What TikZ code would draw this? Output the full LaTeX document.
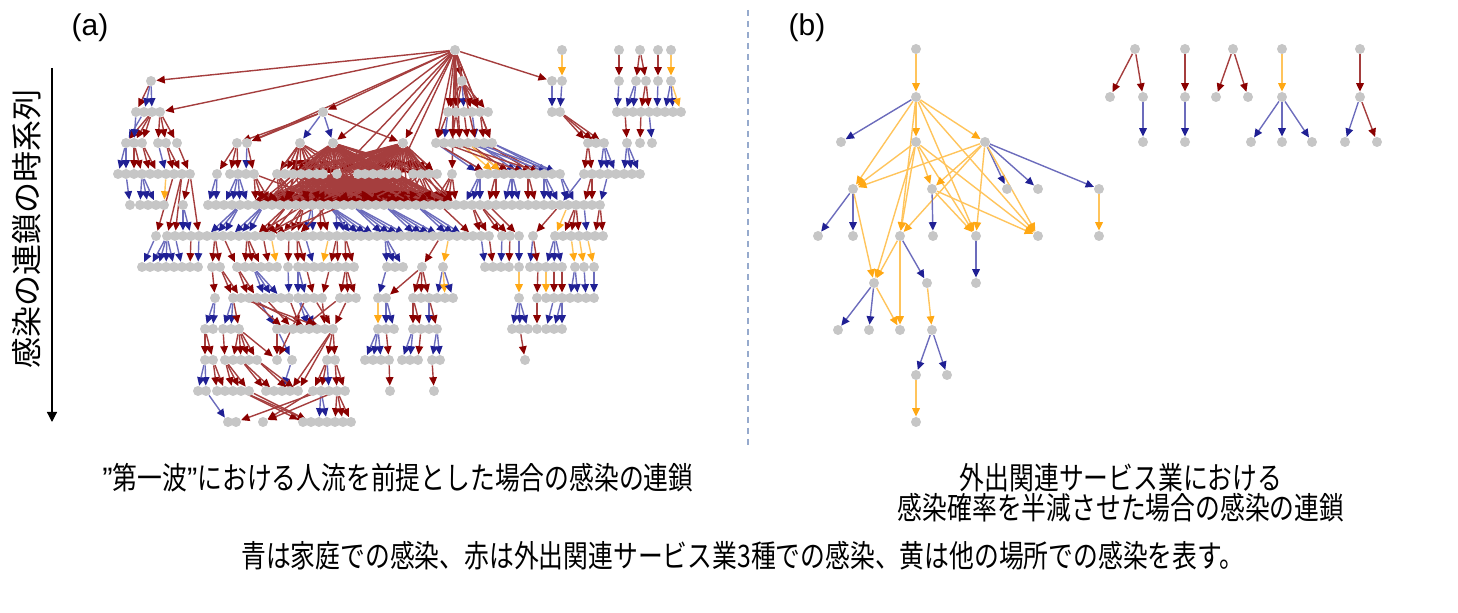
\documentclass[tikz,border=0pt]{standalone}
\usepackage{fontspec}
\usetikzlibrary{arrows.meta}
\newfontfamily\jp[FakeStretch=0.8]{Noto Sans CJK JP}
\newfontfamily\jpv{Noto Sans CJK JP}
\newfontfamily\lab{Liberation Sans}
\definecolor{nodegray}{RGB}{198,198,198}
\definecolor{redline}{RGB}{165,62,62}
\definecolor{redtip}{RGB}{138,0,0}
\definecolor{blueline}{RGB}{108,108,188}
\definecolor{bluetip}{RGB}{32,32,148}
\definecolor{yelline}{RGB}{255,196,92}
\definecolor{yeltip}{RGB}{255,168,20}
\definecolor{sepblue}{RGB}{150,170,205}
\pgfdeclarelayer{edges}
\pgfsetlayers{edges,main}
\tikzset{
  case/.style={circle, fill=nodegray, inner sep=0pt, minimum size=5pt},
  lnr/.style={draw=redline, line width=0.7pt, -{Triangle[length=4.2pt,width=3.8pt,color=redtip]}},
  lnb/.style={draw=blueline, line width=0.7pt, -{Triangle[length=4.2pt,width=3.8pt,color=bluetip]}},
  lny/.style={draw=yelline, line width=0.7pt, -{Triangle[length=4.2pt,width=3.8pt,color=yeltip]}},
  captxt/.style={font=\fontsize{15.5}{15}\selectfont\jp, inner sep=0pt, align=center},
  paneltxt/.style={font=\fontsize{15}{15}\selectfont\lab, inner sep=0pt}
}
\def\nonetext{none}
% (a): one run of siblings per entry: row/x/count/parent/colour
\def\chainruns{
  0/455/1/none/r, 0/562/1/none/r, 0/619/1/none/r, 0/640/1/none/r, 0/658/1/none/r, 0/671/1/none/r,
  1/151/1/n0-455/r, 1/462/1/n0-455/r, 1/552/1/n0-455/r, 1/562/1/n0-562/y, 1/619/1/n0-619/r,
  1/636/1/n0-640/r, 1/646/1/n0-640/r, 1/658/1/n0-658/r, 1/671/1/n0-671/y,
  2/136/1/n1-151/r, 2/144/2/n1-151/b, 2/160/1/n0-455/r, 2/323/1/n0-455/r, 2/448/2/n1-462/r,
  2/464/1/n1-462/b, 2/472/3/n1-462/r, 2/552/1/n1-552/b, 2/560/1/n1-562/b, 2/617/1/n1-619/b,
  2/625/2/n1-636/b, 2/641/2/n1-646/r, 2/657/1/n1-658/b, 2/665/2/n1-671/b, 2/681/1/n1-671/y,
  3/126/1/n2-144/b, 3/134/2/n2-152/r, 3/158/2/n2-160/r, 3/177/1/n2-160/r, 3/237/1/n2-323/r,
  3/247/1/n2-323/r, 3/300/1/n2-323/b, 3/333/1/n2-323/b, 3/403/1/n0-455/r, 3/436/1/n2-448/r,
  3/444/1/n2-448/b, 3/452/2/n2-456/r, 3/468/1/n2-464/r, 3/476/1/n2-472/b, 3/484/2/n2-480/r,
  3/588/2/n2-560/r, 3/604/1/n2-560/r, 3/627/1/n2-625/r, 3/640/1/n2-641/r, 3/652/1/n2-649/b,
  4/118/2/n3-126/b, 4/134/2/n3-134/r, 4/150/2/n3-142/r, 4/166/1/n3-158/b, 4/174/2/n3-166/r,
  4/190/1/n3-177/r, 4/217/1/n3-237/r, 4/230/2/n3-237/r, 4/246/1/n3-247/b, 4/254/1/n3-247/r,
  4/277/1/n3-300/r, 4/285/5/n3-300/r, 4/323/1/n3-333/r, 4/337/1/n3-333/r, 4/358/1/n3-403/r,
  4/365/4/n3-403/r, 4/397/1/n3-403/r, 4/413/4/n3-403/r,
  4/452/1/n0-455/r, 4/480/2/n3-436/b, 4/496/1/n3-460/y, 4/504/2/n3-468/r, 4/520/2/n3-476/b,
  4/536/2/n3-484/r, 4/552/2/n3-492/b, 4/584/2/n3-588/r, 4/600/3/n3-604/b, 4/624/3/n3-627/b,
  5/130/1/n4-126/b, 5/140/3/n4-142/b, 5/164/1/n4-166/y, 5/183/1/n4-190/r, 5/208/2/n4-217/b,
  5/224/4/n4-238/b, 5/256/3/n4-254/r, 5/280/4/n4-277/r, 5/312/5/n4-323/r, 5/352/5/n4-358/r,
  5/392/5/n4-397/r, 5/432/4/n4-452/r, 5/464/3/n4-480/b, 5/488/2/n4-496/r, 5/504/3/n4-512/b,
  5/528/2/n4-528/r, 5/544/3/n4-544/b, 5/568/2/n4-560/b, 5/584/2/n4-592/r, 5/600/1/n4-608/b,
  6/156/1/n4-174/r, 6/167/2/n4-182/r, 6/183/2/n5-183/b, 6/199/1/n4-190/r, 6/207/3/n5-240/b,
  6/231/3/n5-264/b, 6/255/2/n5-288/r, 6/271/1/n5-296/r, 6/281/3/n5-304/r, 6/305/2/n5-312/b,
  6/321/2/n5-320/r, 6/337/2/n5-336/b, 6/353/4/n5-328/b, 6/385/4/n5-352/b, 6/417/4/n5-384/b,
  6/449/3/n5-416/b, 6/473/1/n5-440/r, 6/481/2/n5-472/r, 6/502/2/n5-480/r, 6/519/1/n5-488/r,
  6/533/1/n5-560/r, 6/555/1/n5-568/y, 6/563/3/n5-576/r, 6/587/1/n5-584/b, 6/595/2/n5-600/r,
  7/142/1/n6-156/b, 7/150/4/n6-167/b, 7/182/1/n6-175/b, 7/190/1/n6-191/r, 7/198/1/n6-199/b,
  7/212/2/n6-215/r, 7/237/1/n6-223/r, 7/245/3/n6-247/r, 7/269/1/n6-263/r, 7/277/1/n6-271/y,
  7/288/1/n6-289/r, 7/298/2/n6-297/r, 7/314/1/n6-305/b, 7/322/1/n6-329/y, 7/330/2/n6-337/r,
  7/346/2/n6-345/r, 7/387/3/n6-385/b, 7/422/1/n6-441/r, 7/443/1/n6-449/y, 7/485/1/n6-481/b,
  7/493/1/n6-489/r, 7/501/1/n6-502/b, 7/509/1/n6-510/r, 7/519/1/n6-519/b, 7/530/1/n6-533/b,
  7/538/1/n6-533/r, 7/546/3/n6-555/b, 7/575/1/n6-571/y, 7/584/1/n6-579/y, 7/594/1/n6-587/y,
  8/215/1/n7-212/r, 8/233/2/n7-220/r, 8/249/2/n7-237/r, 8/265/3/n7-253/b, 8/289/1/n7-288/b,
  8/298/2/n7-298/b, 8/314/1/n7-306/r, 8/322/1/n7-330/r, 8/340/3/n7-346/r, 8/378/1/n7-387/b,
  8/386/1/n7-422/r, 8/413/3/n7-422/r, 8/437/1/n7-443/b, 8/445/1/n7-443/y, 8/453/1/n7-443/b,
  8/519/1/n7-519/y, 8/537/1/n7-538/r, 8/546/1/n7-546/y, 8/554/1/n7-554/r, 8/562/1/n7-562/r,
  8/570/2/n7-575/b, 8/586/1/n7-584/b, 8/594/1/n7-594/b,
  9/205/2/n8-215/b, 9/223/2/n8-233/b, 9/239/1/n8-233/r, 9/277/1/n8-257/b, 9/285/1/n8-249/r,
  9/293/1/n8-265/r, 9/301/1/n8-289/r, 9/309/2/n8-298/b, 9/325/1/n8-322/r, 9/333/1/n8-314/r,
  9/378/1/n8-378/y, 9/386/2/n8-386/b, 9/413/2/n8-413/r, 9/429/1/n8-429/b, 9/437/1/n8-429/r,
  9/512/3/n8-519/b, 9/537/1/n8-537/r, 9/546/1/n8-554/b, 9/554/2/n8-562/b,
  10/205/2/n9-205/r, 10/225/1/n9-223/r, 10/233/4/n9-239/r, 10/277/1/n9-277/r, 10/292/1/n9-277/b,
  10/327/2/n9-333/r, 10/365/3/n9-378/b, 10/389/1/n9-386/r, 10/402/2/n9-413/b, 10/418/1/n9-421/r,
  10/432/2/n9-437/b, 10/525/1/n9-520/r,
  11/198/2/n10-205/b, 11/217/2/n10-213/r, 11/233/3/n10-225/r, 11/266/2/n10-241/r, 11/282/1/n10-292/b,
  11/290/2/n10-257/r, 11/313/2/n10-327/r, 11/329/1/n10-327/b, 11/337/2/n10-335/r, 11/390/1/n10-389/r,
  11/434/1/n10-432/r,
  12/228/1/n11-206/b, 12/236/1/n11-321/r, 12/263/1/n11-313/r, 12/303/2/n11-241/r, 12/319/2/n11-321/b,
  12/335/3/n11-337/r}
\begin{document}
\begin{tikzpicture}[x=0.5pt, y=-0.5pt]
\useasboundingbox (0,0) rectangle (1458,613);

% panel labels and separator
\node[paneltxt] (lblA) at (90,28) {(a)};
\node[paneltxt] (lblB) at (807,28) {(b)};
\coordinate (sepTop) at (748,10);
\coordinate (sepBot) at (748,448);
\draw[sepblue, line width=0.6pt, dash pattern=on 3pt off 2.5pt] (sepTop) -- (sepBot);

% time axis
\coordinate (tTop) at (52,68);
\coordinate (tBot) at (52,422);
\draw[line width=0.6pt, -{Triangle[length=5pt,width=5pt]}] (tTop) -- (tBot);
\node[font=\fontsize{15.5}{15}\selectfont\jpv, rotate=90, inner sep=0pt] (tLabel) at (27,229) {感染の連鎖の時系列};

% (a): nodes first, then the links on the lower layer
\foreach \row/\x/\m/\up/\col in \chainruns{
  \pgfmathtruncatemacro{\yy}{50+31*\row}
  \foreach \k in {1,...,\m}{
    \pgfmathtruncatemacro{\xx}{\x+8*(\k-1)}
    \node[case] (n\row-\xx) at (\xx,\yy) {};
  }
}
\begin{pgfonlayer}{edges}
\foreach \row/\x/\m/\up/\col in \chainruns{
  \ifx\up\nonetext\else
    \foreach \k in {1,...,\m}{
      \pgfmathtruncatemacro{\xx}{\x+8*(\k-1)}
      \draw[ln\col] (\up) -- (n\row-\xx);
    }
  \fi
}
% long links across the runs
\foreach \a/\b/\col in {
  n0-455/n3-247/r, n0-455/n3-333/r, n0-455/n3-452/r, n0-455/n3-492/r, n0-455/n2-456/r,
  n0-455/n2-480/r, n0-455/n4-337/r, n0-455/n4-397/r, n0-455/n4-358/r, n2-323/n3-403/r,
  n0-455/n2-448/r, n0-455/n2-472/r, n0-455/n3-436/r, n0-455/n3-460/r, n0-455/n3-476/r,
  n3-333/n4-358/r, n3-403/n4-323/r, n3-403/n4-337/r, n4-254/n5-336/r, n3-468/n4-504/y,
  n3-468/n4-552/b, n3-476/n4-560/b, n3-444/n4-528/r, n3-452/n4-544/r, n3-436/n4-488/r,
  n4-584/n5-560/b, n9-239/n10-277/r, n11-337/n12-263/r, n11-249/n12-311/r, n8-241/n9-325/r,
  n8-249/n9-309/r, n8-306/n10-277/r, n8-340/n9-301/r, n8-348/n9-333/r, n9-333/n11-290/r,
  n9-333/n11-298/r, n5-304/n6-255/r, n5-320/n6-263/r, n5-344/n6-271/r, n5-328/n6-297/r,
  n2-152/n3-126/r, n2-136/n3-134/b}{
  \draw[ln\col] (\a) -- (\b);
}
% dense red fans of the big cluster
\foreach \h in {n3-333, n3-403}{
  \foreach \t in {285,293,301,309,317,365,373,381,389,413,421,429,437}{
    \draw[lnr] (\h) -- (n4-\t);
  }
}
\foreach \h/\s in {n3-333/256, n3-403/264, n4-323/248, n4-337/256, n4-358/272, n4-397/264}{
  \pgfmathtruncatemacro{\sn}{\s+8}
  \foreach \t in {\s,\sn,...,456}{
    \draw[lnr] (\h) -- (n5-\t);
  }
}
\foreach \h/\s in {n4-293/264, n4-309/280, n4-373/312, n4-389/336, n4-421/360}{
  \pgfmathtruncatemacro{\sn}{\s+24}
  \foreach \t in {\s,\sn,...,456}{
    \draw[lnr] (\h) -- (n5-\t);
  }
}
\foreach \t in {256,288,...,416}{
  \draw[lnr] (n3-300) -- (n5-\t);
}
\end{pgfonlayer}

% (b): chains with the halved probability
\foreach \nm/\x/\y in {
  bA/916/49, bB/916/97, bC1/841/142, bC2/916/142, bC3/985/142,
  bD1/853/189, bD2/932/189, bD3/1007/189, bD4/1038/189, bD5/1099/189,
  bE1/818/236, bE2/853/236, bE3/900/236, bE4/933/236, bE5/976/236, bE6/1038/236, bE7/1099/236,
  bF1/874/283, bF2/927/283, bF3/976/283,
  bG1/838/330, bG2/869/330, bG3/900/330, bG4/932/330,
  bH1/916/375, bH2/947/375, bI1/916/422,
  t1r/1135/49, t1a/1110/97, t1b/1143/97, t1c/1143/142,
  t2r/1185/49, t2a/1185/97, t2b/1185/142,
  t3r/1233/49, t3a/1216/97, t3b/1248/97,
  t4r/1282/49, t4a/1282/97, t4b/1251/142, t4c/1282/142, t4d/1312/142,
  t5r/1360/49, t5a/1360/97, t5b/1345/142, t5c/1377/142}{
  \node[case] (\nm) at (\x,\y) {};
}
\begin{pgfonlayer}{edges}
\foreach \a/\b/\col in {
  bA/bB/y, bB/bC1/b, bB/bC2/y, bB/bC3/y, bB/bD1/y, bB/bE3/y, bB/bE5/y, bB/bE6/y,
  bC2/bD1/y, bC2/bD2/y, bC2/bE3/y, bC2/bE5/y, bC2/bE6/y, bC2/bF1/y,
  bC3/bD1/y, bC3/bD2/y, bC3/bD3/b, bC3/bD4/b, bC3/bD5/b, bC3/bE3/y, bC3/bE5/y, bC3/bE6/y,
  bD1/bE1/b, bD1/bE2/b, bD1/bF1/y, bD2/bE4/b, bD2/bE5/y, bD2/bE6/y, bD5/bE7/y,
  bE3/bF1/y, bE3/bF2/b, bE3/bG3/y, bE5/bF3/b,
  bF1/bG1/b, bF1/bG2/b, bF1/bG3/y, bF2/bG4/y, bG4/bH1/b, bG4/bH2/b, bH1/bI1/y,
  t1r/t1a/r, t1r/t1b/r, t1b/t1c/b, t2r/t2a/r, t2a/t2b/b, t3r/t3a/r, t3r/t3b/r,
  t4r/t4a/y, t4a/t4b/b, t4a/t4c/b, t4a/t4d/b, t5r/t5a/r, t5a/t5b/b, t5a/t5c/r}{
  \draw[ln\col] (\a) -- (\b);
}
\end{pgfonlayer}

% captions
\node[captxt] (capA) at (398,478) {{\lab ”}第一波{\lab ”}における人流を前提とした場合の感染の連鎖};
\node[captxt] (capB) at (1121,493) {外出関連サービス業における\\感染確率を半減させた場合の感染の連鎖};
\node[captxt] (legend) at (743,556) {青は家庭での感染、赤は外出関連サービス業3種での感染、黄は他の場所での感染を表す。};
\end{tikzpicture}
\end{document}
